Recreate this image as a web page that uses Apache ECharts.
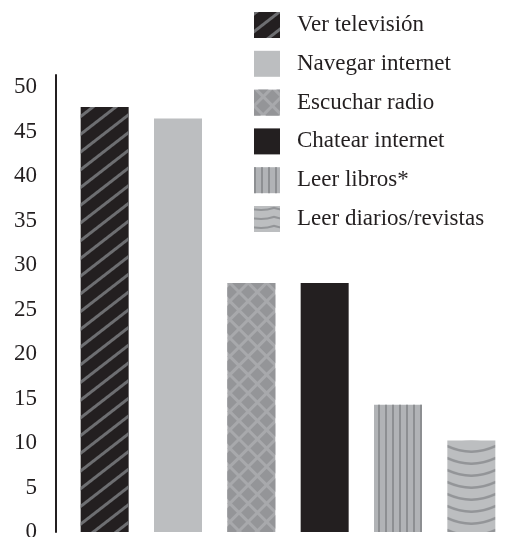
<!DOCTYPE html>
<html><head><meta charset="utf-8">
<script src="https://cdn.jsdelivr.net/npm/echarts@6/dist/echarts.min.js"></script>
<style>html,body{margin:0;padding:0;background:#fff}#c{width:507px;height:537px}</style>
</head><body><div id="c"></div>
<script>
const categories = ['Ver televisión', 'Navegar internet', 'Escuchar radio', 'Chatear internet', 'Leer libros*', 'Leer diarios/revistas'];
const values = [47.8, 46.5, 28.0, 28.0, 14.3, 10.3];
const yTickLabels = ['0', '5', '10', '15', '20', '25', '30', '35', '40', '45', '50'];

const INK = '#231f20';
const FONT = 'Liberation Serif';
const BAR_W = 48;
const LEGEND_LEFT = 254;

function arcTile(w, h, sag, lw, bg, fg) {
  const c = document.createElement('canvas');
  c.width = w; c.height = h;
  const ctx = c.getContext('2d');
  ctx.fillStyle = bg; ctx.fillRect(0, 0, w, h);
  ctx.strokeStyle = fg; ctx.lineWidth = lw;
  const top = lw / 2 + 0.5;
  ctx.beginPath();
  ctx.moveTo(-1, top);
  ctx.quadraticCurveTo(w / 2, top + 2 * sag, w + 1, top);
  ctx.stroke();
  return c;
}

const styles = [
  { color: INK, decal: { symbol: 'rect', symbolSize: 1, color: '#6d6e71', dashArrayX: [1, 0], dashArrayY: [3, 11], rotation: -0.66 } },
  { color: '#bcbec0' },
  { color: '#a8a9ac', decal: { symbol: 'rect', symbolSize: 1, color: '#949598', dashArrayX: [10, 3], dashArrayY: [10, 3], rotation: Math.PI / 4 } },
  { color: INK },
  { color: '#b1b3b6', decal: { symbol: 'rect', symbolSize: 1, color: '#8d8f92', dashArrayX: [2, 5], dashArrayY: [1, 0] } },
  { color: '#bcbec0' }
];

const chart = echarts.init(document.getElementById('c'), null, { renderer: 'canvas' });

function buildOption(arcX) {
  const barArc = { image: arcTile(BAR_W, 12, 6, 2.5, '#bcbec0', '#939598'), repeat: 'repeat', x: arcX, y: 0 };
  const legendArc = { image: arcTile(26, 9, 2.5, 2, '#bcbec0', '#939598'), repeat: 'repeat', x: LEGEND_LEFT, y: 0 };
  return {
    animation: false,
    backgroundColor: '#fff',
    grid: { left: 68, right: -1, top: 75, bottom: 5, containLabel: false, outerBoundsMode: 'none' },
    legend: {
      orient: 'vertical', left: LEGEND_LEFT, top: 12, padding: 0,
      itemWidth: 26, itemHeight: 26, itemGap: 12.8, icon: 'rect',
      textStyle: { fontFamily: FONT, fontSize: 23, color: INK, padding: [0, 0, 0, 12] },
      data: categories.map((c, i) => i === 5 ? { name: c, itemStyle: { color: legendArc } } : { name: c })
    },
    xAxis: { type: 'category', data: categories, show: false },
    yAxis: {
      type: 'value', min: 0, max: 51.4, interval: 5, offset: 12,
      axisLine: { show: true, lineStyle: { color: INK, width: 2 } },
      axisTick: { show: false },
      splitLine: { show: false },
      axisLabel: {
        margin: 19, fontFamily: FONT, fontSize: 23, color: INK,
        formatter: v => { const s = String(Math.round(v * 100) / 100); return yTickLabels.includes(s) ? s : ''; }
      }
    },
    series: categories.map((c, i) => ({
      name: c, type: 'bar', stack: 'all', barWidth: BAR_W,
      data: categories.map((_, j) => j === i ? values[i] : '-'),
      itemStyle: i === 5 ? { color: barArc } : styles[i]
    }))
  };
}

chart.setOption(buildOption(0));
const cx = chart.convertToPixel({ xAxisIndex: 0 }, categories[5]);
chart.setOption(buildOption(cx - BAR_W / 2));
</script>
</body></html>
